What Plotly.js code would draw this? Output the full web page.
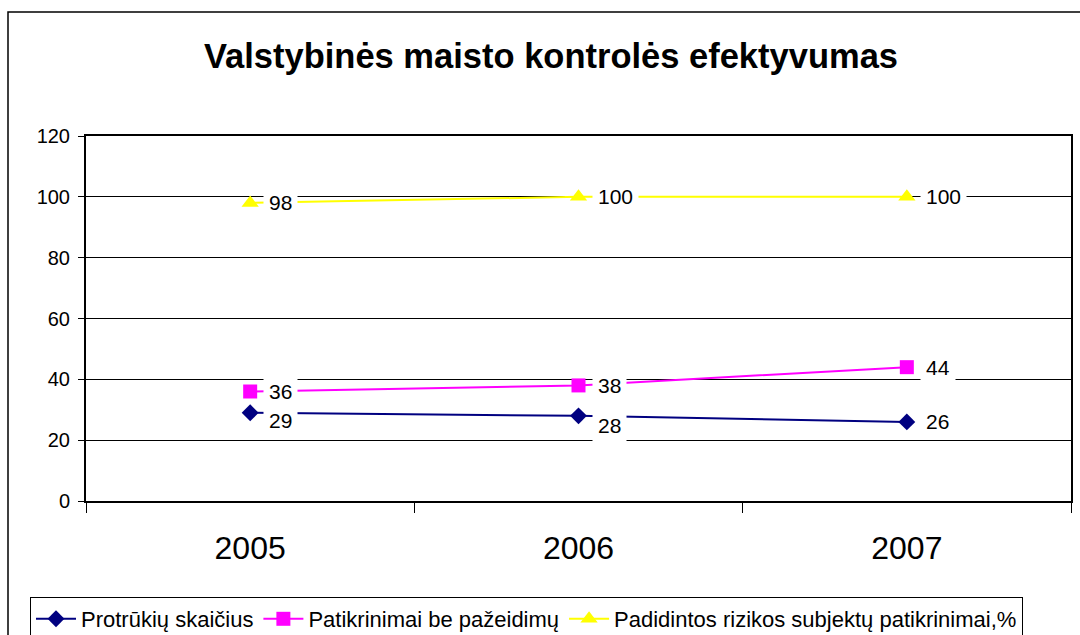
<!DOCTYPE html>
<html>
<head>
<meta charset="utf-8">
<script src="https://cdn.plot.ly/plotly-3.0.1.min.js"></script>
<style>html,body{margin:0;padding:0;background:#fff;}#chart{width:1080px;height:635px;}</style>
</head>
<body>
<div id="chart"></div>
<script>
const years = ["2005", "2006", "2007"];
const protrukiai = [29, 28, 26];
const patikrinimai = [36, 38, 44];
const padidintos = [98, 100, 100];
const seriesNames = ["Protrūkių skaičius", "Patikrinimai be pažeidimų", "Padidintos rizikos subjektų patikrinimai,%"];
const yTicks = [0, 20, 40, 60, 80, 100, 120];

const FONT = "Liberation Sans, Arial, sans-serif";
const series = [protrukiai, patikrinimai, padidintos];
const colors = ["#000080", "#FF00FF", "#FFFF00"];
const symbols = ["diamond", "square", "triangle-up"];
const sizes = [13, 14, 15];
// label vertical nudges (pixels), style only
const labelShift = [[-8, -10, 0], [0, 0, 0], [0, 0, 0]];

const traces = series.map((vals, i) => ({
  type: "scatter",
  mode: "lines+markers",
  x: years,
  y: vals,
  name: seriesNames[i],
  line: {color: colors[i], width: 2},
  marker: {color: colors[i], symbol: symbols[i], size: sizes[i]},
  hoverinfo: "skip"
}));

const annotations = [];
series.forEach((vals, i) => {
  vals.forEach((v, j) => {
    annotations.push({
      x: j, y: v, xref: "x", yref: "y",
      text: String(v), showarrow: false,
      xanchor: "left", yanchor: "middle",
      xshift: 13, yshift: labelShift[i][j],
      bgcolor: "#ffffff", borderpad: 5,
      font: {family: FONT, size: 21, color: "#000"}
    });
  });
});

const L = 86, R = 9, T = 136, B = 134;
const pw = 1080 - L - R, ph = 635 - T - B;

const layout = {
  width: 1080, height: 635,
  margin: {l: L, r: R, t: T, b: B, pad: 0, autoexpand: false},
  paper_bgcolor: "#fff", plot_bgcolor: "#fff",
  font: {family: FONT, color: "#000"},
  title: {
    text: "<b>Valstybinės maisto kontrolės efektyvumas</b>",
    font: {family: FONT, size: 34.5, color: "#000"},
    xref: "container", x: 551 / 1080, xanchor: "center",
    yref: "container", y: 1 - 56 / 635, yanchor: "middle"
  },
  xaxis: {
    type: "category",
    range: [-0.5, 2.5],
    tickson: "boundaries",
    ticks: "outside", ticklen: 10, tickwidth: 1, tickcolor: "#000",
    showgrid: false,
    showline: true, mirror: true, linecolor: "#000", linewidth: 2,
    tickfont: {family: FONT, size: 32, color: "#000"},
    ticklabelstandoff: 18,
    fixedrange: true
  },
  yaxis: {
    range: [0, 120],
    tickvals: yTicks,
    ticktext: yTicks.map(String),
    ticks: "outside", ticklen: 6, tickwidth: 1, tickcolor: "#000",
    showgrid: true, gridcolor: "#000", gridwidth: 1,
    zeroline: false,
    showline: true, mirror: true, linecolor: "#000", linewidth: 2,
    tickfont: {family: FONT, size: 20, color: "#000"},
    ticklabelstandoff: 4,
    fixedrange: true
  },
  showlegend: true,
  legend: {
    orientation: "h",
    x: (30 - L) / pw, xanchor: "left",
    y: (501 - 597) / ph, yanchor: "top",
    bordercolor: "#000", borderwidth: 1, bgcolor: "#fff",
    font: {family: FONT, size: 22, color: "#000"},
    tracegroupgap: 0, itemwidth: 40
  },
  annotations: annotations,
  shapes: [{
    type: "rect", xref: "paper", yref: "paper", layer: "below",
    x0: (8 - L) / pw, x1: 1.2,
    y0: -1, y1: (501 - 12) / ph,
    line: {color: "#000", width: 1.5}, fillcolor: "rgba(0,0,0,0)"
  }]
};

Plotly.newPlot("chart", traces, layout, {displayModeBar: false, staticPlot: true});
</script>
</body>
</html>
